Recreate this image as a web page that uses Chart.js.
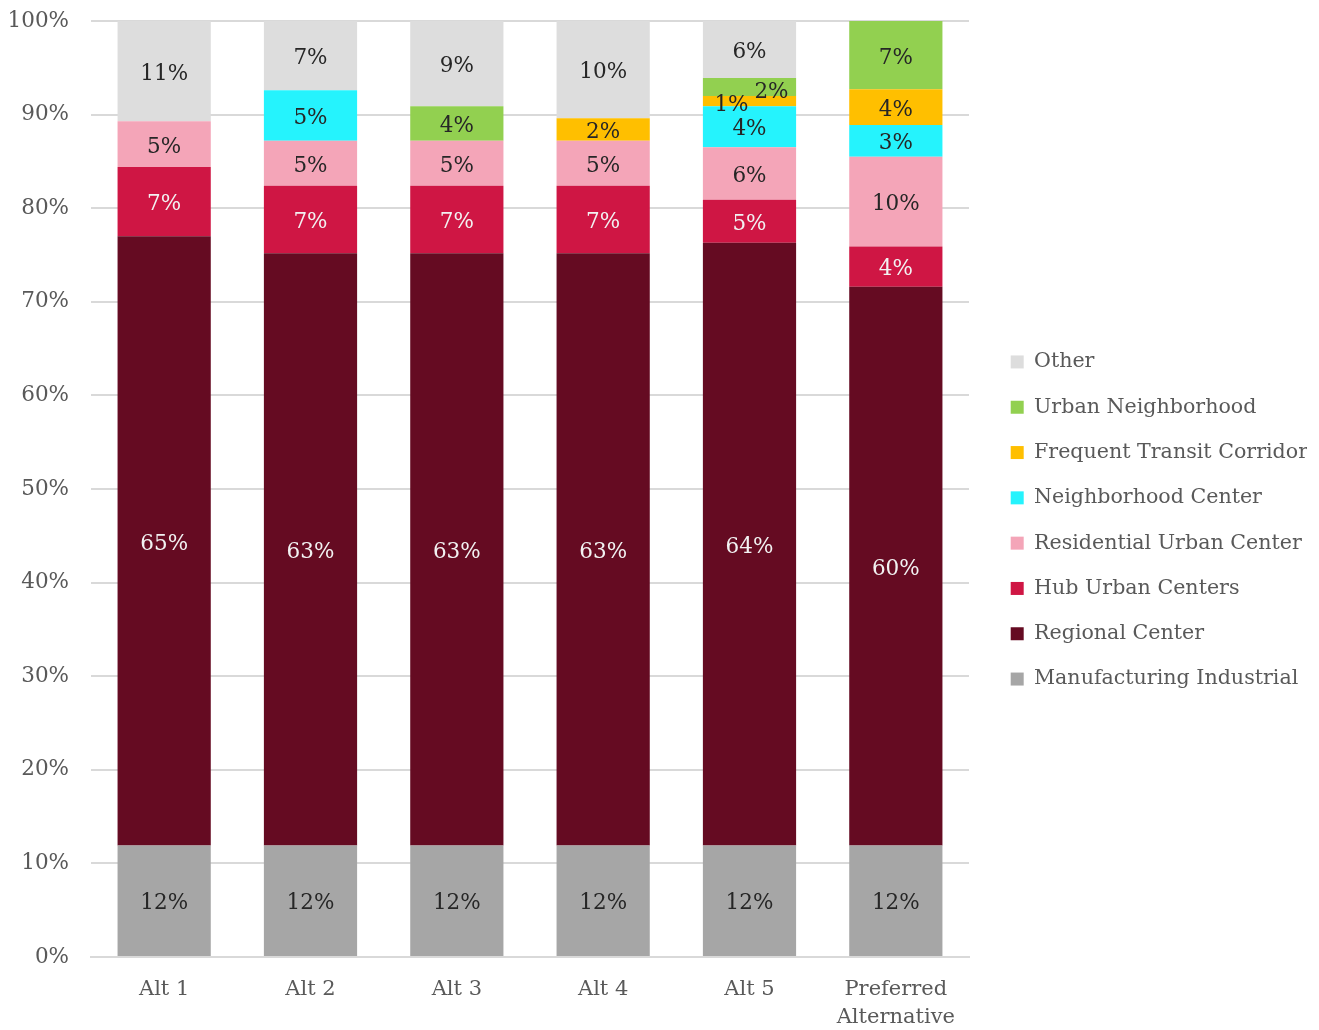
<!DOCTYPE html>
<html>
<head>
<meta charset="utf-8">
<script src="https://cdn.jsdelivr.net/npm/chart.js@4/dist/chart.umd.min.js"></script>
<style>
  html, body { margin: 0; padding: 0; background: #fff; }
  #wrap { width: 1319px; height: 1030px; }
</style>
</head>
<body>
<div id="wrap"><canvas id="shareChart"></canvas></div>
<script>
// share of growth by place type, per alternative (percent)
const alternatives = ['Alt 1', 'Alt 2', 'Alt 3', 'Alt 4', 'Alt 5', ['Preferred', 'Alternative']];
const manufacturing = [11.9, 11.9, 11.9, 11.9, 11.9, 11.9];
const regional = [65.1, 63.3, 63.3, 63.3, 64.4, 59.7];
const hubUrban = [7.4, 7.2, 7.2, 7.2, 4.6, 4.3];
const residential = [4.9, 4.8, 4.8, 4.8, 5.6, 9.6];
const neighborhood = [0, 5.4, 0, 0, 4.4, 3.4];
const transit = [0, 0, 0, 2.4, 1.1, 3.8];
const urbanNbhd = [0, 0, 3.7, 0, 1.9, 7.3];
const other = [10.7, 7.4, 9.1, 10.4, 6.1, 0];
const yTicks = [0, 10, 20, 30, 40, 50, 60, 70, 80, 90, 100];

const FONT = 'DejaVu Serif';

const series = [
  { label: 'Manufacturing Industrial', data: manufacturing, color: '#a6a6a6', text: '#262626' },
  { label: 'Regional Center', data: regional, color: '#650b22', text: '#f2f2f2' },
  { label: 'Hub Urban Centers', data: hubUrban, color: '#cf1644', text: '#f2f2f2' },
  { label: 'Residential Urban Center', data: residential, color: '#f4a5b8', text: '#262626' },
  { label: 'Neighborhood Center', data: neighborhood, color: '#25f3fd', text: '#262626' },
  { label: 'Frequent Transit Corridor', data: transit, color: '#ffbf00', text: '#262626' },
  { label: 'Urban Neighborhood', data: urbanNbhd, color: '#92d050', text: '#262626' },
  { label: 'Other', data: other, color: '#dddddd', text: '#262626' }
];

// the two thin Alt 5 slices get their labels nudged sideways so they don't overlap
const nudges = {
  'Frequent Transit Corridor': { 4: [-18, 1] },
  'Urban Neighborhood': { 4: [22, 2] }
};

const segmentLabels = {
  id: 'segmentLabels',
  afterDatasetsDraw(chart) {
    const ctx = chart.ctx;
    ctx.save();
    ctx.font = '21.5px "' + FONT + '"';
    ctx.textAlign = 'center';
    ctx.textBaseline = 'middle';
    chart.data.datasets.forEach((ds, i) => {
      const meta = chart.getDatasetMeta(i);
      meta.data.forEach((bar, j) => {
        const v = ds.data[j];
        if (!v) return;
        const off = (nudges[ds.label] && nudges[ds.label][j]) || [0, 0];
        ctx.fillStyle = series[i].text;
        ctx.fillText(Math.round(v) + '%', bar.x + off[0], (bar.y + bar.base) / 2 + 3 + off[1]);
      });
    });
    ctx.restore();
  }
};

// leave a wider gap between the plot and the legend, and lift the legend a little
const legendGap = {
  id: 'legendGap',
  afterLayout(chart) {
    const lg = chart.legend;
    lg.left += 17;
    lg.right += 17;
    lg.top -= 5;
    lg.bottom -= 5;
  }
};

new Chart(document.getElementById('shareChart'), {
  type: 'bar',
  data: {
    labels: alternatives,
    datasets: series.map(s => ({
      label: s.label,
      data: s.data,
      backgroundColor: s.color,
      borderWidth: 0,
      categoryPercentage: 1,
      barPercentage: 0.637
    }))
  },
  options: {
    responsive: true,
    maintainAspectRatio: false,
    animation: false,
    layout: { padding: { top: 21, left: 6, right: 29, bottom: 0 } },
    plugins: {
      legend: {
        position: 'right',
        reverse: true,
        labels: {
          boxWidth: 13,
          boxHeight: 13,
          padding: 24.7,
          color: '#595959',
          font: { family: FONT, size: 20.6 }
        }
      },
      tooltip: { enabled: false }
    },
    scales: {
      x: {
        stacked: true,
        afterFit(axis) { axis.height = 73; },
        grid: { display: false, drawTicks: false },
        border: { color: '#d9d9d9', width: 2 },
        ticks: { color: '#595959', font: { family: FONT, size: 21, lineHeight: 1.35 }, padding: 18 }
      },
      y: {
        stacked: true,
        min: 0,
        max: 100,
        afterBuildTicks(axis) { axis.ticks = yTicks.map(v => ({ value: v })); },
        afterFit(axis) {
          axis.width = 85;
          axis.paddingTop = 0;
          axis.paddingBottom = 0;
        },
        grid: { color: '#d9d9d9', lineWidth: 2, drawTicks: false },
        border: { display: false },
        ticks: {
          color: '#595959',
          font: { family: FONT, size: 21.5 },
          padding: 22,
          callback: v => v + '%'
        }
      }
    }
  },
  plugins: [segmentLabels, legendGap]
});
</script>
</body>
</html>
